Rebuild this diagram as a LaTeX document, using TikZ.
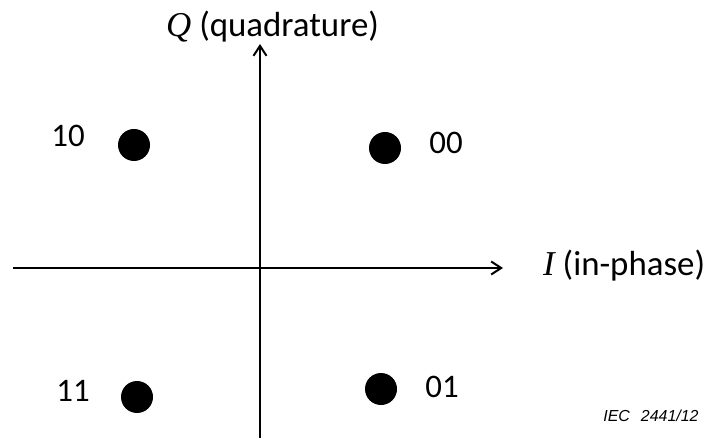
\documentclass[tikz,border=0pt]{standalone}
\usepackage{fontspec}
\setmainfont{Carlito}
\newfontfamily\qiserif{Liberation Serif}
\newfontfamily\iecsans{Liberation Sans}
\usetikzlibrary{arrows.meta, positioning}
\tikzset{
  cpaxis/.style={line width=2bp, draw=black,
    -{Straight Barb[length=10bp,width=13bp]}},
  cpdot/.style={circle, fill=black, minimum size=32bp, inner sep=0pt},
  cpbits/.style={font=\fontsize{33}{36}\selectfont, inner sep=0pt},
  cplbl/.style={font=\fontsize{35}{38}\selectfont, inner sep=0pt, anchor=west},
  ciectag/.style={font=\iecsans\itshape\fontsize{16}{18}\selectfont, inner sep=0pt},
}

\begin{document}
\begin{tikzpicture}[x=1bp, y=-1bp]
  \useasboundingbox (0,0) rectangle (708,438);
  % axes
  \coordinate (west) at (13,268);
  \coordinate (east) at (503,268);
  \coordinate (south) at (260,438);
  \coordinate (north) at (260,44);
  \draw[cpaxis] (west) -- (east);
  \draw[cpaxis] (south) -- (north);
  \node[cplbl] (qlbl) at (166,27) {{\qiserif\itshape Q} (quadrature)};
  \node[cplbl] (ilbl) at (543,266) {{\qiserif\itshape I} (in-phase)};
  % constellation points
  \node[cpdot] (d10) at (134,145) {};
  \node[cpdot] (d00) at (385,148) {};
  \node[cpdot] (d11) at (137,397) {};
  \node[cpdot] (d01) at (381,389) {};
  \node[cpbits] (b10) at (68,136) {10};
  \node[cpbits] (b00) at (446,143) {00};
  \node[cpbits] (b11) at (73,391) {11};
  \node[cpbits] (b01) at (442,387) {01};
  \node[ciectag] (iec) at (651,416) {IEC\hspace{11bp}2441/12};
\end{tikzpicture}
\end{document}
